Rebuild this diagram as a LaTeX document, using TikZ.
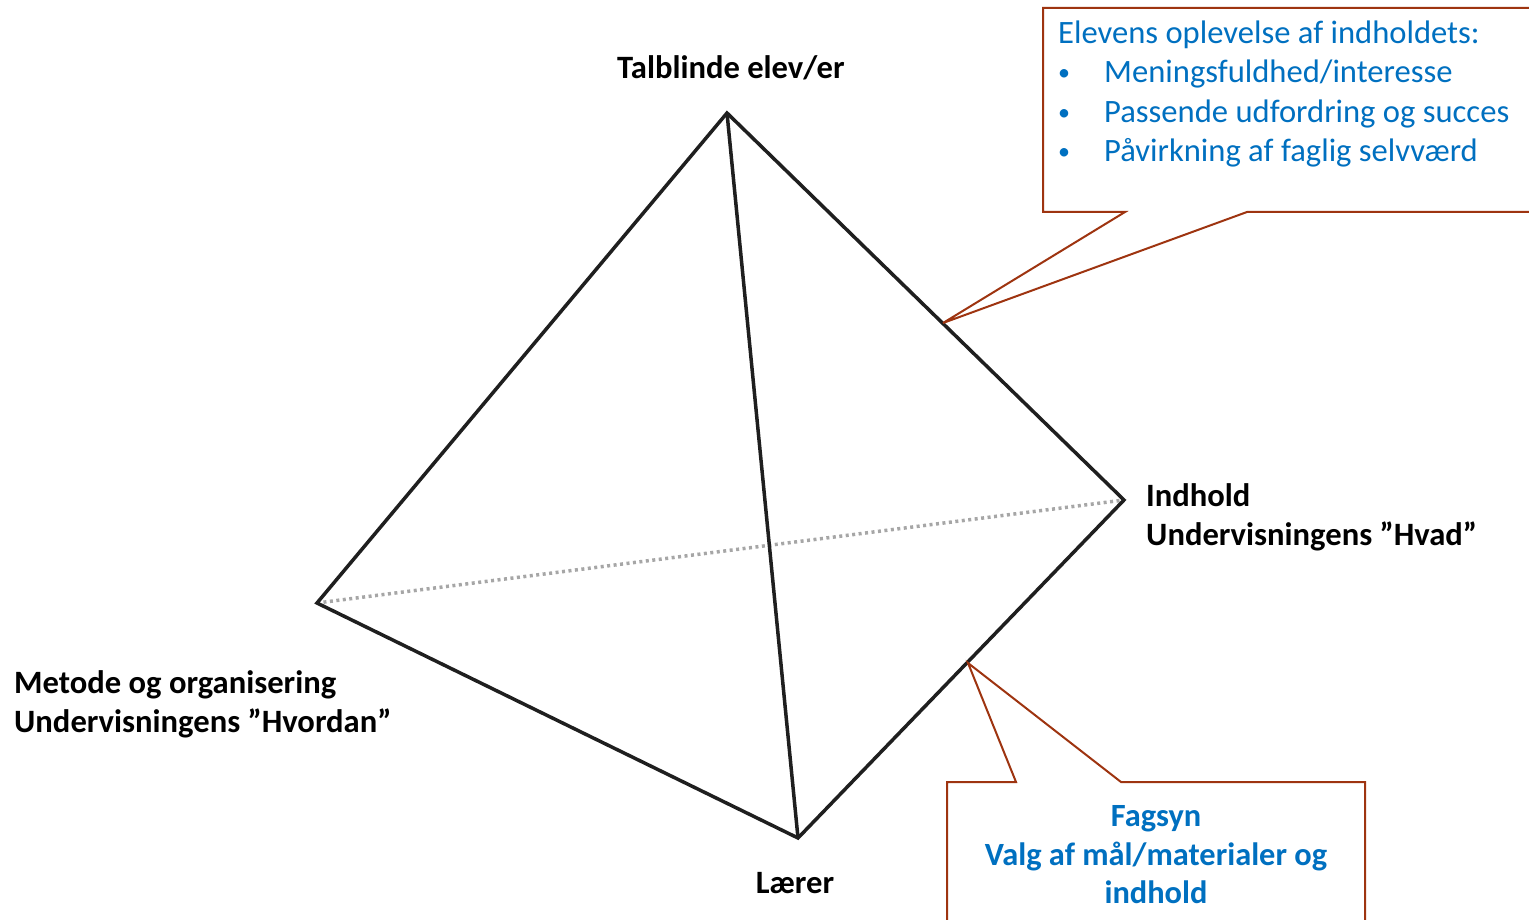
\documentclass[tikz,border=0pt]{standalone}
\usepackage{fontspec}
\setmainfont{Carlito}
\definecolor{callred}{RGB}{158,52,16}
\definecolor{callblue}{RGB}{0,112,192}
\begin{document}
\begin{tikzpicture}[x=1pt,y=-1pt,
  edge/.style={line width=3.5pt, black!88, line join=miter},
  hidden/.style={line width=3.5pt, gray!70, dash pattern=on 3pt off 3.5pt},
  callout/.style={draw=callred, line width=2pt, fill=white, line join=miter},
  lbl/.style={font=\fontsize{32.6}{39}\selectfont\bfseries, anchor=base west, inner sep=0pt},
  blu/.style={font=\fontsize{32.6}{39}\selectfont, text=callblue, anchor=base west, inner sep=0pt},
  dot/.style={font=\fontsize{24}{29}\selectfont, text=callblue, anchor=base west, inner sep=0pt},
  bblu/.style={font=\fontsize{32.4}{39}\selectfont\bfseries, text=callblue, anchor=base, inner sep=0pt}
]
\useasboundingbox (0,0) rectangle (1529,920);
\clip (0,0) rectangle (1529,920);

% tetrahedron corners
\coordinate (top) at (727,113);
\coordinate (rgt) at (1124,500);
\coordinate (lft) at (317,603);
\coordinate (bot) at (798,838);

% hidden back edge
\draw[hidden] (lft) -- (rgt);
% visible edges
\draw[edge] (top) -- (lft) -- (bot) -- (rgt) -- cycle;
\draw[edge] (top) -- (bot);

% tips of the callouts on the edges
\coordinate (tipA) at (943,323);
\coordinate (tipB) at (968,663);

% upper callout
\draw[callout] (1043,212) -- (1125,212) -- (tipA) -- (1247,212) -- (1540,212)
  -- (1540,8) -- (1043,8) -- cycle;
\node[blu] (c1) at (1058,43.5) {Elevens oplevelse af indholdets:};
\node[dot] (b1) at (1058,80.5) {•};
\node[blu] (c2) at (1104,82.5) {Meningsfuldhed/interesse};
\node[dot] (b2) at (1058,120.5) {•};
\node[blu] (c3) at (1104,122.5) {Passende udfordring og succes};
\node[dot] (b3) at (1058,159.5) {•};
\node[blu] (c4) at (1104,161.5) {Påvirkning af faglig selvværd};

% lower callout
\draw[callout] (947,782) -- (1016,782) -- (tipB) -- (1121,782) -- (1365,782)
  -- (1365,930) -- (947,930) -- cycle;
\node[bblu] (d1) at (1156,826.5) {Fagsyn};
\node[bblu] (d2) at (1156,865.5) {Valg af mål/materialer og};
\node[bblu] (d3) at (1156,903.5) {indhold};

% corner labels
\node[lbl] (ltop) at (617,78.5) {Talblinde elev/er};
\node[lbl] (lr1) at (1146,506.5) {Indhold};
\node[lbl] (lr2) at (1146,545.5) {Undervisningens ”Hvad”};
\node[lbl] (ll1) at (14,693.5) {Metode og organisering};
\node[lbl] (ll2) at (14,732.5) {Undervisningens ”Hvordan”};
\node[lbl, anchor=base] (lbot) at (795,893.5) {Lærer};
\end{tikzpicture}
\end{document}
